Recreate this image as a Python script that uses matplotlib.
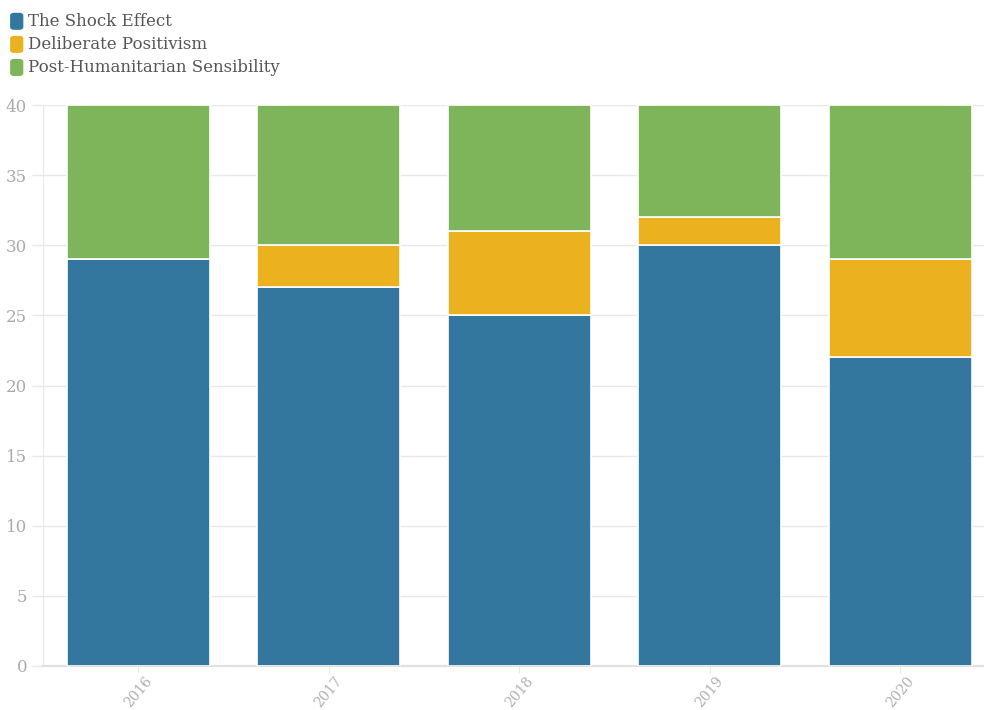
import matplotlib.pyplot as plt
from matplotlib.patches import FancyBboxPatch
import numpy as np

years = ["2016", "2017", "2018", "2019", "2020"]
shock = [29, 27, 25, 30, 22]
positivism = [0, 3, 6, 2, 7]
post_hum = [11, 10, 9, 8, 11]

labels = ["The Shock Effect", "Deliberate Positivism", "Post-Humanitarian Sensibility"]
colors = ["#33779f", "#ecb11f", "#7fb55a"]

plt.rcParams['font.family'] = ['DejaVu Serif']

fig = plt.figure(figsize=(9.84, 7.10), dpi=100)
ax = fig.add_axes([0.0437, 0.062, 0.9563, 0.790])

x = np.arange(len(years))
bottom = np.zeros(len(years))
for vals, col in zip([shock, positivism, post_hum], colors):
    vals = np.array(vals, dtype=float)
    ax.bar(x, vals, width=0.75, bottom=bottom, color=col, edgecolor="white",
           linewidth=1.2, zorder=3)
    bottom += vals

ax.set_xlim(-0.5, 4.44)
ax.set_ylim(0, 40)
ax.set_yticks(range(0, 41, 5))
ax.set_xticks(x)
ax.set_xticklabels(years, rotation=50, ha="center", va="top")

ax.grid(axis="y", color="#e8e8e8", linewidth=1, zorder=0)
for s in ["top", "right"]:
    ax.spines[s].set_visible(False)
ax.spines["left"].set_color("#e8e8e8")
ax.spines["bottom"].set_color("#e0e0e0")
ax.spines["bottom"].set_linewidth(1.5)
ax.tick_params(axis="y", labelcolor="#aaaaaa", labelsize=12, length=8, width=1,
               color="#e8e8e8")
ax.tick_params(axis="x", labelcolor="#b0b0b0", labelsize=10, length=5, pad=1,
               color="#e8e8e8")

# legend with rounded swatches
for i, (lab, col) in enumerate(zip(labels, colors)):
    yy = 0.970 - i * 0.0325
    fig.patches.append(FancyBboxPatch((0.011, yy - 0.011), 0.012, 0.022,
                                      boxstyle="round,pad=0,rounding_size=0.003",
                                      transform=fig.transFigure, color=col,
                                      figure=fig))
    fig.text(0.028, yy, lab, fontsize=12, color="#555555", va="center", ha="left")

fig.savefig("out.png", dpi=100)
